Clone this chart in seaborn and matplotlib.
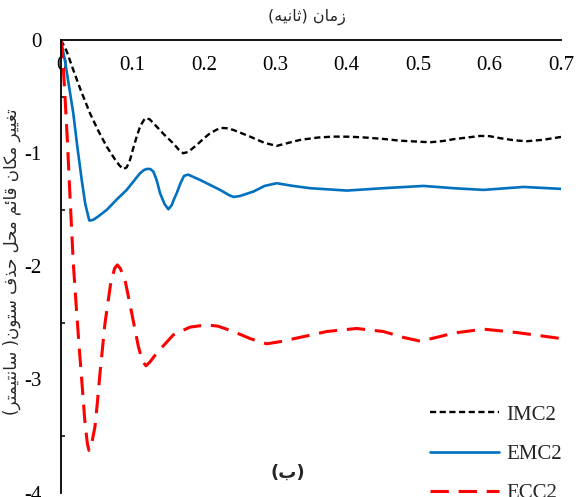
import matplotlib
matplotlib.use("Agg")
import matplotlib.pyplot as plt
import seaborn as sns
import numpy as np
import pandas as pd

# ---------------- data ----------------
imc2_t = [0.0, 0.008, 0.0172, 0.028, 0.0406, 0.052, 0.064, 0.075, 0.082, 0.0873,
          0.092, 0.0966, 0.101, 0.106, 0.111, 0.1176, 0.124, 0.134, 0.145, 0.157,
          0.165, 0.171, 0.178, 0.190, 0.200, 0.2087, 0.2227, 0.232, 0.2413, 0.2647,
          0.285, 0.302, 0.318, 0.3347, 0.360, 0.3814, 0.405, 0.428, 0.452, 0.4748,
          0.5168, 0.535, 0.5494, 0.5868, 0.600, 0.6148, 0.635, 0.6522, 0.675, 0.70]
imc2_v = [0.0, -0.10, -0.265, -0.45, -0.648, -0.80, -0.943, -1.05, -1.11, -1.142,
          -1.125, -1.06, -0.96, -0.854, -0.76, -0.692, -0.70, -0.766, -0.84, -0.913,
          -0.97, -1.001, -0.99, -0.928, -0.87, -0.824, -0.777, -0.78, -0.795, -0.854,
          -0.91, -0.936, -0.91, -0.883, -0.862, -0.854, -0.855, -0.863, -0.875, -0.890,
          -0.904, -0.893, -0.877, -0.848, -0.85, -0.868, -0.887, -0.895, -0.882, -0.857]

emc2_t = [0.0, 0.006, 0.0172, 0.023, 0.029, 0.034, 0.0396, 0.045, 0.052, 0.064,
          0.078, 0.092, 0.1106, 0.116, 0.120, 0.125, 0.1293, 0.134, 0.1387, 0.145,
          0.1503, 0.155, 0.158, 0.162, 0.167, 0.1723, 0.178, 0.1947, 0.2227, 0.235,
          0.2413, 0.250, 0.2693, 0.285, 0.302, 0.325, 0.3487, 0.4001, 0.4514, 0.5074,
          0.5494, 0.5915, 0.6475, 0.70]
emc2_v = [0.0, -0.20, -0.648, -0.95, -1.237, -1.45, -1.596, -1.59, -1.56, -1.502,
          -1.41, -1.325, -1.178, -1.15, -1.14, -1.14, -1.163, -1.24, -1.354, -1.45,
          -1.496, -1.46, -1.41, -1.354, -1.27, -1.201, -1.19, -1.237, -1.325, -1.37,
          -1.387, -1.38, -1.340, -1.29, -1.266, -1.29, -1.310, -1.331, -1.310, -1.290,
          -1.310, -1.325, -1.299, -1.316]

ecc2_t = [0.0, 0.003, 0.0056, 0.009, 0.0126, 0.0172, 0.022, 0.026, 0.029, 0.0336,
          0.037, 0.0392, 0.042, 0.0476, 0.051, 0.0546, 0.0616, 0.0696, 0.075, 0.0789,
          0.083, 0.0896, 0.099, 0.1083, 0.114, 0.119, 0.124, 0.134, 0.1573, 0.1807,
          0.204, 0.220, 0.2413, 0.265, 0.288, 0.308, 0.330, 0.372, 0.414, 0.4514,
          0.480, 0.5028, 0.525, 0.5494, 0.5915, 0.6382, 0.70]
ecc2_v = [0.0, -0.22, -0.50, -0.90, -1.384, -1.973, -2.414, -2.76, -3.004, -3.386,
          -3.57, -3.628, -3.60, -3.416, -3.20, -2.944, -2.503, -2.149, -2.02, -1.988,
          -2.02, -2.12, -2.414, -2.709, -2.84, -2.88, -2.85, -2.768, -2.606, -2.538,
          -2.518, -2.53, -2.577, -2.64, -2.686, -2.665, -2.635, -2.577, -2.550, -2.577,
          -2.63, -2.662, -2.63, -2.591, -2.556, -2.586, -2.639]

series_names = ["IMC2", "EMC2", "ECC2"]
x_ticks = [0, 0.1, 0.2, 0.3, 0.4, 0.5, 0.6, 0.7]
x_tick_labels = ["0", "0.1", "0.2", "0.3", "0.4", "0.5", "0.6", "0.7"]
y_ticks = [0, -1, -2, -3, -4]
y_tick_labels = ["0", "-1", "-2", "-3", "-4"]

x_title = "زمان (ثانیه)"
y_title = "تغییر مکان قائم محل حذف ستون( سانتیمتر)"
panel_label = "(ب)"

# ---------------- minimal Arabic/Persian shaping for display ----------------
FORMS = {
    '\u0627': ('\uFE8D', '\uFE8E', None, None),
    '\u0628': ('\uFE8F', '\uFE90', '\uFE91', '\uFE92'),
    '\u062A': ('\uFE95', '\uFE96', '\uFE97', '\uFE98'),
    '\u062B': ('\uFE99', '\uFE9A', '\uFE9B', '\uFE9C'),
    '\u062D': ('\uFEA1', '\uFEA2', '\uFEA3', '\uFEA4'),
    '\u0630': ('\uFEAB', '\uFEAC', None, None),
    '\u0631': ('\uFEAD', '\uFEAE', None, None),
    '\u0632': ('\uFEAF', '\uFEB0', None, None),
    '\u0633': ('\uFEB1', '\uFEB2', '\uFEB3', '\uFEB4'),
    '\u063A': ('\uFECD', '\uFECE', '\uFECF', '\uFED0'),
    '\u0641': ('\uFED1', '\uFED2', '\uFED3', '\uFED4'),
    '\u0642': ('\uFED5', '\uFED6', '\uFED7', '\uFED8'),
    '\u0644': ('\uFEDD', '\uFEDE', '\uFEDF', '\uFEE0'),
    '\u0645': ('\uFEE1', '\uFEE2', '\uFEE3', '\uFEE4'),
    '\u0646': ('\uFEE5', '\uFEE6', '\uFEE7', '\uFEE8'),
    '\u0647': ('\uFEE9', '\uFEEA', '\uFEEB', '\uFEEC'),
    '\u0648': ('\uFEED', '\uFEEE', None, None),
    '\u0626': ('\uFE89', '\uFE8A', '\uFE8B', '\uFE8C'),
    '\u06A9': ('\uFB8E', '\uFB8F', '\uFB90', '\uFB91'),
    '\u06CC': ('\uFBFC', '\uFBFD', '\uFBFE', '\uFBFF'),
}


def rtl(text):
    out = []
    n = len(text)
    for i, c in enumerate(text):
        if c not in FORMS:
            out.append(c)
            continue
        iso, fin, ini, med = FORMS[c]
        prev = text[i - 1] if i > 0 else None
        nxt = text[i + 1] if i < n - 1 else None
        jp = prev in FORMS and FORMS[prev][2] is not None
        jn = ini is not None and nxt in FORMS
        if jp and jn:
            g = med
        elif jp:
            g = fin
        elif jn:
            g = ini
        else:
            g = iso
        out.append(g)
    vis = ''.join(reversed(out))
    return vis.translate(str.maketrans('()', ')('))


# ---------------- plot ----------------
sns.set_style("white")
plt.rcParams['font.family'] = ['Liberation Serif', 'DejaVu Sans']
plt.rcParams['axes.unicode_minus'] = False

W, H = 579, 497
fig = plt.figure(figsize=(W / 100, H / 100), dpi=100)
ax = fig.add_axes([61 / W, 4.5 / H, 500 / W, 452.5 / H])

sns.lineplot(x=imc2_t, y=imc2_v, ax=ax, color="black", linewidth=1.7,
             linestyle=(0, (2.6, 1.5)), label=series_names[0], sort=False)
sns.lineplot(x=emc2_t, y=emc2_v, ax=ax, color="#0070C0", linewidth=1.9,
             label=series_names[1], sort=False)
sns.lineplot(x=ecc2_t, y=ecc2_v, ax=ax, color="#FF0000", linewidth=2.2,
             linestyle=(0, (6.0, 3.2)), label=series_names[2], sort=False)
for ln in ax.lines:
    ln.set_solid_joinstyle("round")
    ln.set_dash_joinstyle("round")

ax.set_xlim(0, 0.7)
ax.set_ylim(-4, 0)
ax.set_xlabel("")
ax.set_ylabel("")

for s in ["top", "right"]:
    ax.spines[s].set_visible(False)
ax.spines["bottom"].set_position(("data", 0))
for s in ["left", "bottom"]:
    ax.spines[s].set_linewidth(1.3)
    ax.spines[s].set_color("black")

ax.set_xticks(x_ticks)
ax.set_xticklabels(x_tick_labels)
ax.set_yticks(y_ticks)
ax.set_yticklabels(y_tick_labels)
ax.set_yticks(np.arange(-3.5, 0, 1.0), minor=True)

ax.tick_params(axis="x", which="major", direction="out", length=3.6, width=1.3,
               pad=8, labelsize=15, colors="black")
ax.tick_params(axis="y", which="major", direction="inout", length=8, width=1.3,
               pad=10, labelsize=15, colors="black")
ax.tick_params(axis="y", which="minor", direction="in", length=3, width=1.3,
               left=True)

leg = ax.legend(loc="upper left", bbox_to_anchor=(430 / W, (H - 405) / H),
                bbox_transform=fig.transFigure, frameon=False, borderpad=0,
                borderaxespad=0, handlelength=3.3, handletextpad=0.35,
                labelspacing=0.95, fontsize=15)

fig.text(307 / W, 1 - 17 / H, rtl(x_title), ha="center", va="center",
         fontsize=11.5, family="DejaVu Sans")
fig.text(12 / W, 1 - 262 / H, rtl(y_title), ha="center", va="center",
         rotation=90, fontsize=12, family="DejaVu Sans")
fig.text(288 / W, 1 - 473 / H, rtl(panel_label), ha="center", va="center",
         fontsize=13, fontweight="bold", family="DejaVu Sans")

fig.savefig("out.png", dpi=100)
